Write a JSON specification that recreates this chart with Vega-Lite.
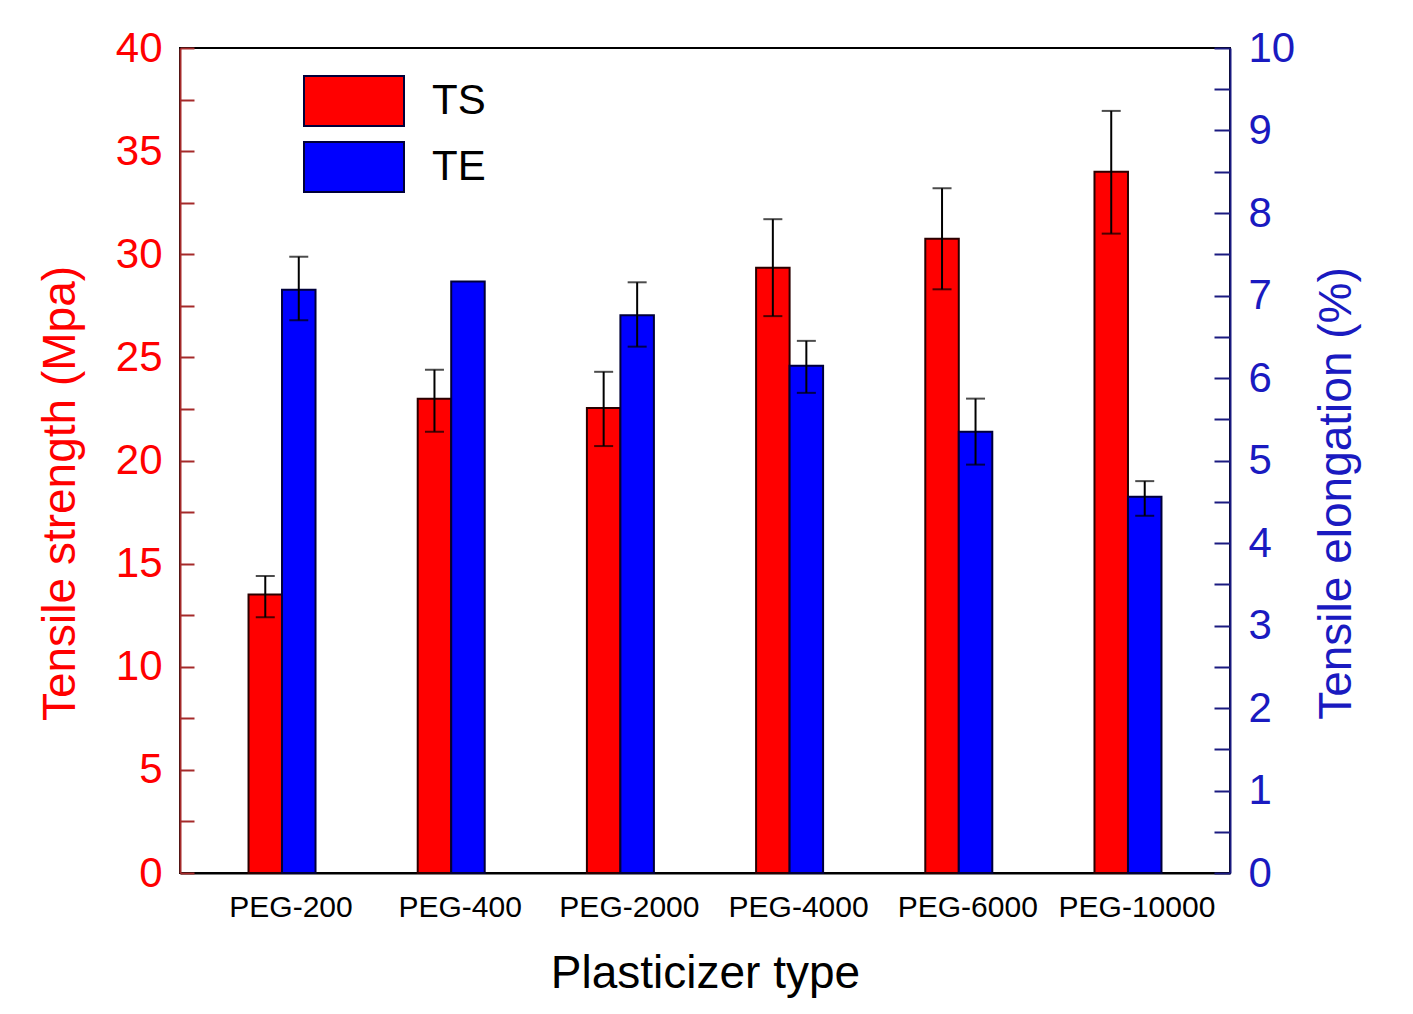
{
  "$schema": "https://vega.github.io/schema/vega-lite/v6.json",
  "width": 1050,
  "height": 825,
  "autosize": {"type": "none"},
  "padding": {"left": 180, "top": 48, "right": 183, "bottom": 141},
  "background": "white",
  "config": {
    "view": {"stroke": "black", "strokeWidth": 2},
    "font": "Liberation Sans",
    "axis": {"grid": false}
  },
  "data": {
    "values": [
      {"type": "PEG-200", "series": "TS", "value": 13.5, "lo": 12.4, "hi": 14.4},
      {"type": "PEG-200", "series": "TE", "value": 7.07, "lo": 6.7, "hi": 7.47},
      {"type": "PEG-400", "series": "TS", "value": 23.0, "lo": 21.4, "hi": 24.4},
      {"type": "PEG-400", "series": "TE", "value": 7.17, "lo": null, "hi": null},
      {"type": "PEG-2000", "series": "TS", "value": 22.55, "lo": 20.7, "hi": 24.3},
      {"type": "PEG-2000", "series": "TE", "value": 6.76, "lo": 6.38, "hi": 7.16},
      {"type": "PEG-4000", "series": "TS", "value": 29.35, "lo": 27.0, "hi": 31.7},
      {"type": "PEG-4000", "series": "TE", "value": 6.15, "lo": 5.82, "hi": 6.45},
      {"type": "PEG-6000", "series": "TS", "value": 30.75, "lo": 28.3, "hi": 33.2},
      {"type": "PEG-6000", "series": "TE", "value": 5.35, "lo": 4.95, "hi": 5.75},
      {"type": "PEG-10000", "series": "TS", "value": 34.0, "lo": 31.0, "hi": 36.95},
      {"type": "PEG-10000", "series": "TE", "value": 4.56, "lo": 4.33, "hi": 4.75}
    ]
  },
  "encoding": {
    "x": {
      "field": "type",
      "type": "nominal",
      "sort": null,
      "scale": {"paddingInner": 0.604, "paddingOuter": 0.405},
      "axis": {
        "title": "Plasticizer type",
        "labelAngle": 0,
        "labelFontSize": 30,
        "labelColor": "black",
        "labelBaseline": "middle",
        "labelPadding": 34,
        "labelOffset": 9,
        "ticks": false,
        "domainColor": "black",
        "domainWidth": 2,
        "titleFontSize": 46,
        "titleFontWeight": "normal",
        "titleColor": "black",
        "titleBaseline": "middle",
        "titleY": 100
      }
    },
    "xOffset": {
      "field": "series",
      "type": "nominal",
      "scale": {"domain": ["TS", "TE"], "paddingInner": 0, "paddingOuter": 0}
    }
  },
  "layer": [
    {
      "transform": [{"filter": "datum.series === 'TS'"}],
      "encoding": {
        "y": {
          "field": "value",
          "type": "quantitative",
          "scale": {"domain": [0, 40], "nice": false, "zero": true}
        }
      },
      "layer": [
        {
          "mark": {"type": "bar", "stroke": "#2a0000", "strokeWidth": 2},
          "encoding": {
            "color": {
              "field": "series",
              "type": "nominal",
              "scale": {"domain": ["TS", "TE"], "range": ["#FF0000", "#0000FF"]},
              "legend": {
                "title": null,
                "orient": "none",
                "legendX": 148,
                "legendY": 27,
                "symbolType": "M-2,-1H2V1H-2Z",
                "symbolSize": 2500,
                "symbolStrokeColor": "#200000",
                "symbolStrokeWidth": 2,
                "symbolOpacity": 1,
                "labelFontSize": 42,
                "labelColor": "black",
                "labelOffset": 52,
                "rowPadding": 8
              }
            },
            "y": {
              "field": "value",
              "type": "quantitative",
              "axis": {
                "title": "Tensile strength (Mpa)",
                "orient": "left",
                "values": [0, 2.5, 5, 7.5, 10, 12.5, 15, 17.5, 20, 22.5, 25, 27.5, 30, 32.5, 35, 37.5, 40],
                "format": ".0f",
                "labelExpr": "abs(datum.value/5 - round(datum.value/5)) < 0.001 ? datum.label : ''",
                "labelFontSize": 42,
                "labelColor": "#FF0000",
                "labelPadding": 32,
                "labelBaseline": "middle",
                "tickSize": -14,
                "tickColor": "#a52a2a",
                "tickWidth": 2,
                "domainColor": "#a52a2a",
                "domainWidth": 2,
                "titleFontSize": 46,
                "titleFontWeight": "normal",
                "titleColor": "#FF0000",
                "titleBaseline": "middle",
                "titleAngle": -90,
                "titleX": -120,
                "titleY": 445
              }
            }
          }
        },
        {
          "transform": [{"filter": "datum.lo != null"}],
          "mark": {"type": "rule", "color": "black", "strokeWidth": 2},
          "encoding": {
            "y": {"field": "lo", "type": "quantitative"},
            "y2": {"field": "hi"}
          }
        },
        {
          "transform": [{"filter": "datum.lo != null"}],
          "mark": {"type": "tick", "color": "black", "size": 19, "thickness": 2},
          "encoding": {"y": {"field": "hi", "type": "quantitative"}}
        },
        {
          "transform": [{"filter": "datum.lo != null"}],
          "mark": {"type": "tick", "color": "black", "size": 19, "thickness": 2},
          "encoding": {"y": {"field": "lo", "type": "quantitative"}}
        }
      ]
    },
    {
      "transform": [{"filter": "datum.series === 'TE'"}],
      "encoding": {
        "y": {
          "field": "value",
          "type": "quantitative",
          "scale": {"domain": [0, 10], "nice": false, "zero": true}
        }
      },
      "layer": [
        {
          "mark": {"type": "bar", "stroke": "#00003a", "strokeWidth": 2},
          "encoding": {
            "color": {"field": "series", "type": "nominal"},
            "y": {
              "field": "value",
              "type": "quantitative",
              "axis": {
                "title": "Tensile elongation (%)",
                "orient": "right",
                "values": [0, 0.5, 1, 1.5, 2, 2.5, 3, 3.5, 4, 4.5, 5, 5.5, 6, 6.5, 7, 7.5, 8, 8.5, 9, 9.5, 10],
                "format": ".0f",
                "labelExpr": "abs(datum.value - round(datum.value)) < 0.001 ? datum.label : ''",
                "labelFontSize": 42,
                "labelColor": "#1a1ac0",
                "labelPadding": 34,
                "labelBaseline": "middle",
                "tickSize": -16,
                "tickColor": "#1a1a80",
                "tickWidth": 2,
                "domainColor": "#1a1a80",
                "domainWidth": 2,
                "titleFontSize": 46,
                "titleFontWeight": "normal",
                "titleColor": "#1a1ac0",
                "titleBaseline": "middle",
                "titleAngle": -90,
                "titleX": 106,
                "titleY": 445
              }
            }
          }
        },
        {
          "transform": [{"filter": "datum.lo != null"}],
          "mark": {"type": "rule", "color": "black", "strokeWidth": 2},
          "encoding": {
            "y": {"field": "lo", "type": "quantitative"},
            "y2": {"field": "hi"}
          }
        },
        {
          "transform": [{"filter": "datum.lo != null"}],
          "mark": {"type": "tick", "color": "black", "size": 19, "thickness": 2},
          "encoding": {"y": {"field": "hi", "type": "quantitative"}}
        },
        {
          "transform": [{"filter": "datum.lo != null"}],
          "mark": {"type": "tick", "color": "black", "size": 19, "thickness": 2},
          "encoding": {"y": {"field": "lo", "type": "quantitative"}}
        }
      ]
    }
  ],
  "resolve": {"scale": {"y": "independent"}, "axis": {"y": "independent"}}
}
